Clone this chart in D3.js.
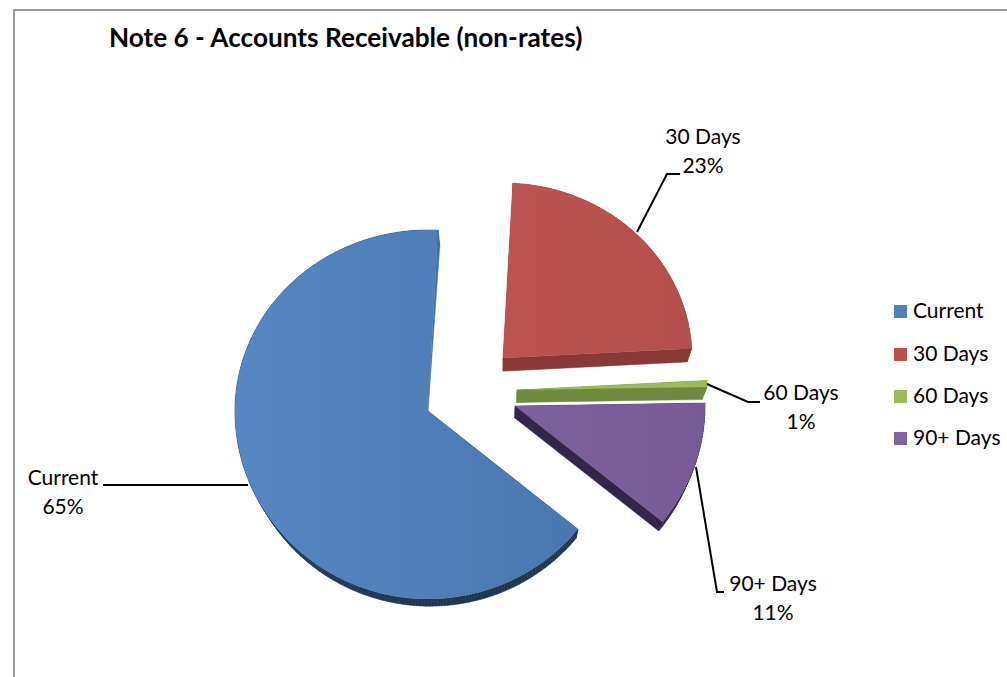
<!DOCTYPE html>
<html>
<head>
<meta charset="utf-8">
<script src="https://cdn.jsdelivr.net/npm/d3@7"></script>
<style>
  html, body { margin: 0; padding: 0; background: #fff; }
  svg { display: block; font-family: Lato, "Open Sans", sans-serif; }
</style>
</head>
<body>
<div id="chart"></div>
<script>
// Chart data
const titleText = 'Note 6 - Accounts Receivable (non-rates)';
const categories = ['Current', '30 Days', '60 Days', '90+ Days'];
const values = [65.0, 23.3, 0.6, 11.1];

// Colours per slice: left/right of the face gradient and the extruded wall
const faceLeft = ['#5787c2', '#bb5450', '#9bbb59', '#7d619c'];
const faceRight = ['#4977b0', '#b44f4b', '#9bbb59', '#775b96'];
const wallColors = ['#1f3552', '#8a3835', '#6f8a3c', '#33264a'];
const legendColors = ['#4f81bd', '#c0504d', '#9bbb59', '#8064a2'];

// Where each exploded slice has its point, and its radii on screen.
// The plane is tilted, so the far (upper) radius is shorter than the near one.
const apexX = [428, 503, 517, 515];
const apexY = [411, 358, 390, 406];
const radiusX = [193, 189, 190, 190];
const radiusUp = [181, 175, 175, 175];
const radiusDown = [188, 184, 184, 184];

// Label placement and leader lines, one per slice
const labelX = [63, 703, 801, 773];
const labelY = [485, 144, 400, 591];
const leaders = [
    [[248, 485], [103, 485]],
    [[637, 232], [667, 174], [680, 174]],
    [[707, 384], [748, 402], [760, 402]],
    [[696, 467], [717, 592], [724, 592]]
];
const legendY = [311, 354, 396, 438];

const width = 1007;
const height = 677;
// Depth is a scaled copy towards a vanishing point, like the 3D pie perspective
const vanish = [505, 886];
const depthScale = 0.975;

const svg = d3.select('#chart').append('svg')
    .attr('width', width)
    .attr('height', height);

// Chart frame, open at the right and bottom where the picture is cropped
svg.append('path')
    .attr('d', `M14,${height}V10H${width}`)
    .attr('fill', 'none')
    .attr('stroke', '#9a9a9a')
    .attr('stroke-width', 2);

svg.append('text')
    .attr('x', 109)
    .attr('y', 47)
    .attr('font-size', 26.2)
    .attr('font-weight', 700)
    .attr('fill', '#000')
    .text(titleText);

const defs = svg.append('defs');
categories.forEach((c, i) => {
    const grad = defs.append('linearGradient').attr('id', `face${i}`);
    grad.append('stop').attr('offset', '0%').attr('stop-color', faceLeft[i]);
    grad.append('stop').attr('offset', '100%').attr('stop-color', faceRight[i]);
});

// First slice starts at 129 degrees, clockwise from 12 o'clock
const startAngle = 129 * Math.PI / 180;
const pie = d3.pie()
    .sort(null)
    .startAngle(startAngle)
    .endAngle(startAngle + 2 * Math.PI);
const arcs = pie(values);
const total = d3.sum(values);
const percent = d3.format('.0%');
const outline = d3.line();

// Outline of a slice on screen: the apex, then points along the rim
function slicePoints(d, i) {
    const steps = Math.max(2, Math.ceil((d.endAngle - d.startAngle) * 60));
    const pts = [[apexX[i], apexY[i]]];
    d3.range(steps + 1).forEach(k => {
        const a = d.startAngle + (d.endAngle - d.startAngle) * k / steps;
        const c = Math.cos(a);
        pts.push([
            apexX[i] + radiusX[i] * Math.sin(a),
            apexY[i] - c * (c > 0 ? radiusUp[i] : radiusDown[i])
        ]);
    });
    return pts;
}

function pushBack(p) {
    return [
        vanish[0] + (p[0] - vanish[0]) * depthScale,
        vanish[1] + (p[1] - vanish[1]) * depthScale
    ];
}

arcs.forEach((d, i) => {
    const g = svg.append('g').attr('class', 'slice');
    const pts = slicePoints(d, i);

    // One quad per outline edge makes the extruded wall
    pts.forEach((p, k) => {
        const q = pts[(k + 1) % pts.length];
        // Straight inner wall of the big slice catches light, and tapers to the apex
        const isInnerWall = i === 0 && k === pts.length - 1;
        const color = isInnerWall ? '#3c70a8' : wallColors[i];
        const wall = isInnerWall ? [p, q, pushBack(p)] : [p, q, pushBack(q), pushBack(p)];
        g.append('path')
            .attr('d', outline(wall) + 'Z')
            .attr('fill', color)
            .attr('stroke', color)
            .attr('stroke-width', 0.5);
    });

    g.append('path')
        .attr('d', outline(pts) + 'Z')
        .attr('fill', `url(#face${i})`);
});

// Leader lines
leaders.forEach(pts => {
    svg.append('path')
        .attr('d', outline(pts))
        .attr('fill', 'none')
        .attr('stroke', '#000')
        .attr('stroke-width', 2);
});

// Data labels: name over percentage
categories.forEach((c, i) => {
    const t = svg.append('text')
        .attr('text-anchor', 'middle')
        .attr('font-size', 21)
        .attr('fill', '#000');
    t.append('tspan').attr('x', labelX[i]).attr('y', labelY[i]).text(c);
    t.append('tspan').attr('x', labelX[i]).attr('y', labelY[i] + 29).text(percent(values[i] / total));
});

// Legend
const legend = svg.selectAll('g.legend')
    .data(categories)
    .enter()
    .append('g')
    .attr('class', 'legend')
    .attr('transform', (d, i) => `translate(894,${legendY[i]})`);

legend.append('rect')
    .attr('x', 0)
    .attr('y', -6)
    .attr('width', 13)
    .attr('height', 13)
    .attr('fill', (d, i) => legendColors[i]);

legend.append('text')
    .attr('x', 19)
    .attr('y', 7)
    .attr('font-size', 21)
    .attr('fill', '#000')
    .text(d => d);
</script>
</body>
</html>
